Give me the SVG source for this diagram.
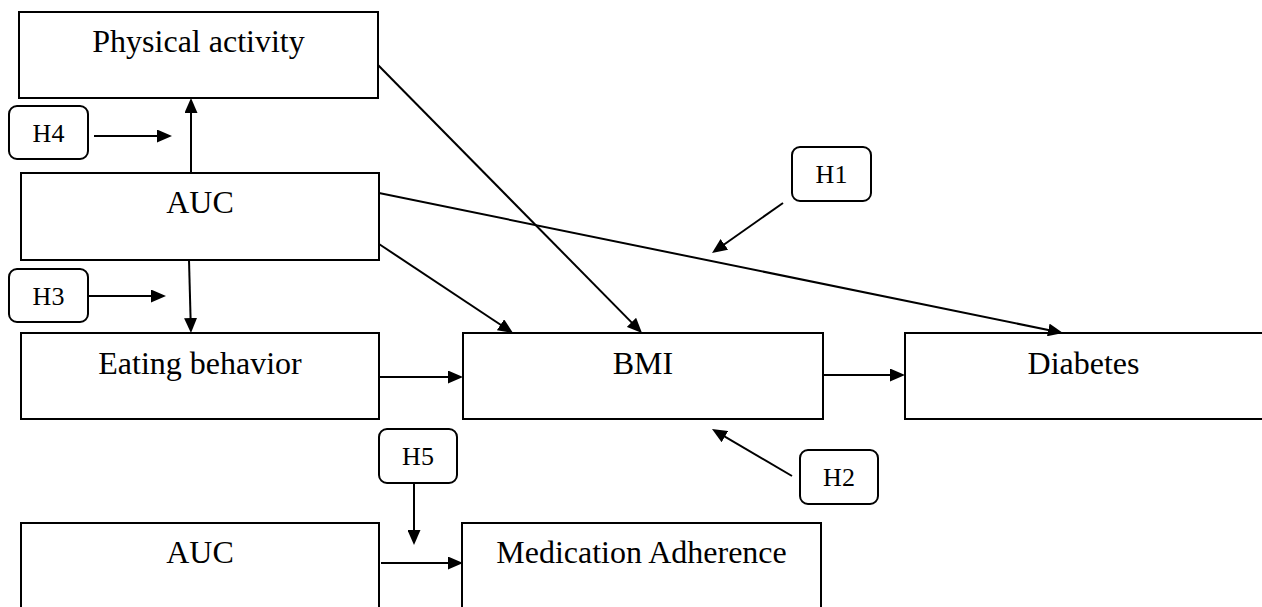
<svg xmlns="http://www.w3.org/2000/svg" width="1262" height="607" viewBox="0 0 1262 607">
<style>
.box{fill:#fff;stroke:#000;stroke-width:2}
.hbox{fill:#fff;stroke:#000;stroke-width:2}
.t{font-family:"Liberation Serif","Times New Roman",serif;font-size:32px;fill:#000;text-anchor:middle}
.h{font-family:"Liberation Serif","Times New Roman",serif;font-size:26px;fill:#000;text-anchor:middle}
.c{stroke:#000;stroke-width:2;fill:none;marker-end:url(#ah)}
</style>
<defs>
<marker id="ah" viewBox="0 0 15 13" markerWidth="15" markerHeight="13" refX="5" refY="6.5" orient="auto" markerUnits="userSpaceOnUse">
<path d="M0,0 L15,6.5 L0,13 z" fill="#000"/>
</marker>
</defs>
<rect width="1262" height="607" fill="#fff"/>
<g id="physical-activity"><rect class="box" x="19" y="12" width="359" height="86"/><text class="t" x="198.5" y="52">Physical activity</text></g>
<g id="auc-top"><rect class="box" x="21" y="173" width="358" height="87"/><text class="t" x="200" y="213">AUC</text></g>
<g id="eating-behavior"><rect class="box" x="21" y="333" width="358" height="86"/><text class="t" x="200" y="374">Eating behavior</text></g>
<g id="bmi"><rect class="box" x="463" y="333" width="360" height="86"/><text class="t" x="643" y="374">BMI</text></g>
<g id="diabetes"><rect class="box" x="905" y="333" width="360" height="86"/><text class="t" x="1083.5" y="374">Diabetes</text></g>
<g id="auc-bottom"><rect class="box" x="21" y="523" width="358" height="90"/><text class="t" x="200" y="563">AUC</text></g>
<g id="medication-adherence"><rect class="box" x="462" y="523" width="359" height="90"/><text class="t" x="641.5" y="563">Medication Adherence</text></g>
<g id="h4"><rect class="hbox" x="9" y="106" width="79" height="53" rx="8"/><text class="h" x="48.5" y="142">H4</text></g>
<g id="h3"><rect class="hbox" x="9" y="269" width="79" height="53" rx="8"/><text class="h" x="48.5" y="305">H3</text></g>
<g id="h1"><rect class="hbox" x="792" y="147" width="79" height="54" rx="8"/><text class="h" x="831.5" y="183">H1</text></g>
<g id="h2"><rect class="hbox" x="800" y="450" width="78" height="54" rx="8"/><text class="h" x="839" y="486">H2</text></g>
<g id="h5"><rect class="hbox" x="379" y="429" width="78" height="54" rx="8"/><text class="h" x="418" y="465">H5</text></g>
<g id="connectors">
<line class="c" x1="94" y1="136" x2="162" y2="136"/>
<line class="c" x1="88" y1="296" x2="156" y2="296"/>
<line class="c" x1="191" y1="173" x2="191" y2="108"/>
<line class="c" x1="189" y1="260" x2="190.7" y2="323"/>
<line class="c" x1="379" y1="377" x2="453" y2="377"/>
<line class="c" x1="823" y1="375" x2="895" y2="375"/>
<line class="c" x1="379" y1="244" x2="504.7" y2="327.5"/>
<line class="c" x1="378" y1="65" x2="635" y2="325.9"/>
<line class="c" x1="379" y1="193" x2="1053.2" y2="331"/>
<line class="c" x1="783" y1="203" x2="720.2" y2="247.2"/>
<line class="c" x1="792" y1="476" x2="720.6" y2="434.1"/>
<line class="c" x1="414" y1="484" x2="414" y2="535"/>
<line class="c" x1="381" y1="563" x2="453" y2="563"/>
</g>
</svg>
